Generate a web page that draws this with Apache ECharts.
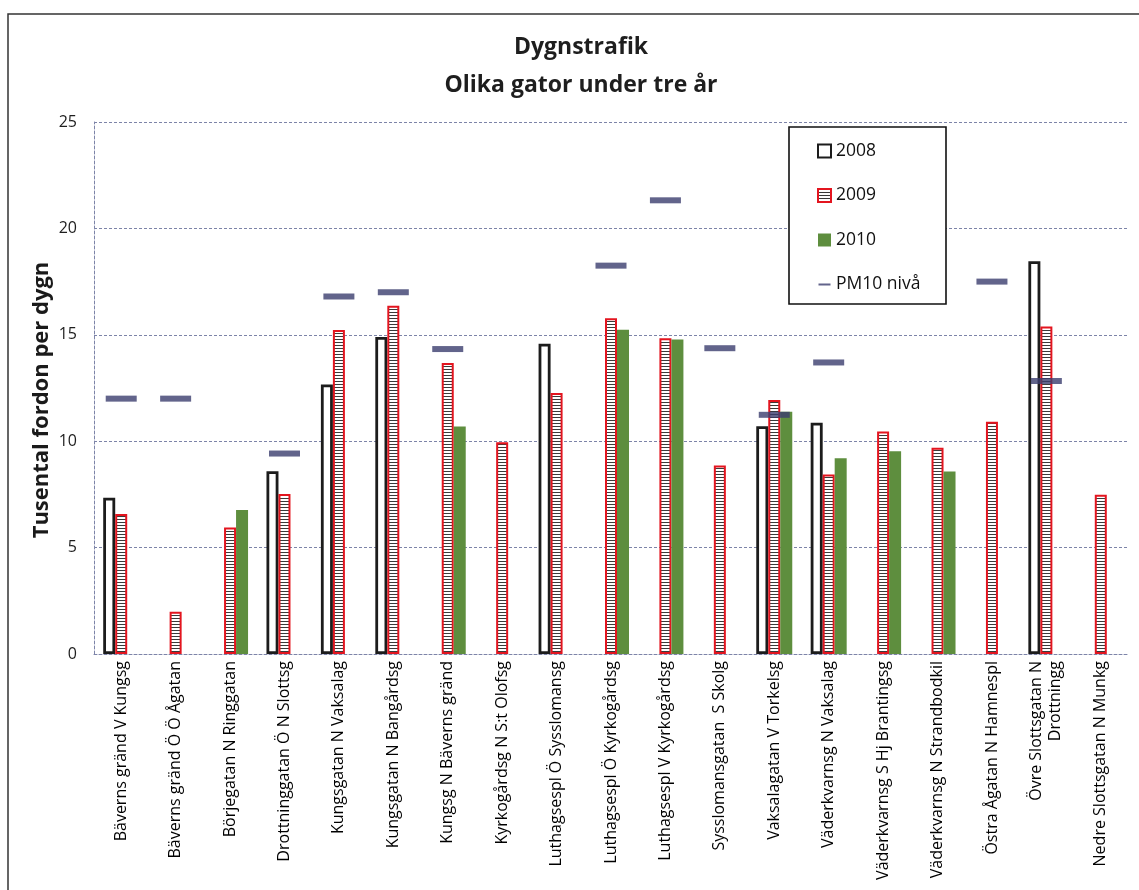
<!DOCTYPE html>
<html>
<head>
<meta charset="utf-8">
<title>Dygnstrafik</title>
<script src="https://cdn.jsdelivr.net/npm/echarts@6/dist/echarts.min.js"></script>
<style>
  html, body { margin: 0; padding: 0; background: #ffffff; }
  #chart { width: 1139px; height: 890px; }
</style>
</head>
<body>
<div id="chart"></div>
<script>
// Mätplatser (gator)
var categories = [
  'Bäverns gränd V Kungsg',
  'Bäverns gränd Ö Ö Ågatan',
  'Börjegatan N Ringgatan',
  'Drottninggatan Ö N Slottsg',
  'Kungsgatan N Vaksalag',
  'Kungsgatan N Bangårdsg',
  'Kungsg N Bäverns gränd',
  'Kyrkogårdsg N S:t Olofsg',
  'Luthagsespl Ö Sysslomansg',
  'Luthagsespl Ö Kyrkogårdsg',
  'Luthagsespl V Kyrkogårdsg',
  'Sysslomansgatan  S Skolg',
  'Vaksalagatan V Torkelsg',
  'Väderkvarnsg N Vaksalag',
  'Väderkvarnsg S Hj Brantingsg',
  'Väderkvarnsg N Strandbodkil',
  'Östra Ågatan N Hamnespl',
  'Övre Slottsgatan N\nDrottningg',
  'Nedre Slottsgatan N Munkg'
];

// Tusental fordon per dygn ('-' = ingen mätning)
var values2008 = [7.34, '-', '-', 8.59, 12.67, 14.9, '-', '-', 14.58, '-', '-', '-', 10.7, 10.87, '-', '-', '-', 18.46, '-'];
var values2009 = [6.58, 1.98, 5.94, 7.52, 15.22, 16.36, 13.67, 9.95, 12.27, 15.78, 14.84, 8.86, 11.94, 8.44, 10.45, 9.69, 10.91, 15.39, 7.48];
var values2010 = ['-', '-', 6.77, '-', '-', '-', 10.69, '-', '-', 15.24, 14.78, '-', 11.38, 9.2, 9.53, 8.58, '-', '-', '-'];
var valuesPM10 = [12.0, 12.0, '-', 9.42, 16.8, 17.0, 14.33, '-', '-', 18.25, 21.32, 14.37, 11.24, 13.7, '-', '-', 17.5, 12.83, '-'];

var yTicks = { min: 0, max: 25, interval: 5 };

// Randig fyllning för 2009-staplarna
function stripePattern() {
  var c = document.createElement('canvas');
  c.width = 4;
  c.height = 3;
  var ctx = c.getContext('2d');
  ctx.fillStyle = '#ffffff';
  ctx.fillRect(0, 0, 4, 3);
  ctx.fillStyle = '#3a3a3a';
  ctx.fillRect(0, 0, 4, 1);
  return c;
}

var chart = echarts.init(document.getElementById('chart'), null, { renderer: 'canvas' });

var gridColor = '#7d84a8';
var font = '"Open Sans", "DejaVu Sans", sans-serif';

var option = {
  backgroundColor: '#ffffff',
  animation: false,
  title: {
    text: 'Dygnstrafik\nOlika gator under tre år',
    left: 576,
    top: 23,
    textAlign: 'center',
    textStyle: {
      fontFamily: font,
      fontSize: 23,
      fontWeight: 'bold',
      color: '#1e1e1e',
      lineHeight: 38
    }
  },
  graphic: [
    {
      type: 'rect',
      z: 0,
      silent: true,
      shape: { x: 8, y: 14, width: 1300, height: 1100 },
      style: { fill: 'none', stroke: '#333333', lineWidth: 1.5 }
    },
    {
      type: 'rect',
      z: 10,
      silent: true,
      shape: { x: 789, y: 127, width: 157, height: 177 },
      style: { fill: '#ffffff', stroke: '#111111', lineWidth: 1.6 }
    },
    {
      // y-axelns rubrik
      type: 'text',
      x: 42,
      y: 400,
      rotation: Math.PI / 2,
      silent: true,
      style: {
        text: 'Tusental fordon per dygn',
        fontFamily: font,
        fontSize: 22,
        fontWeight: 'bold',
        fill: '#1a1a1a',
        align: 'center',
        verticalAlign: 'middle'
      }
    }
  ],
  legend: {
    orient: 'vertical',
    left: 817,
    top: 142,
    padding: 0,
    z: 20,
    itemWidth: 13,
    itemHeight: 13,
    itemGap: 26.5,
    textStyle: {
      fontFamily: font,
      fontSize: 17.5,
      color: '#111111',
      lineHeight: 17
    },
    data: [
      { name: '2008', icon: 'rect' },
      { name: '2009', icon: 'rect' },
      { name: '2010', icon: 'rect' },
      { name: 'PM10 nivå', icon: 'path://M0,0 L0.01,0 L0,0.01 Z M0,5.5 L12,5.5 L12,7.5 L0,7.5 Z M0,13 L0.01,13 L0,12.99 Z' }
    ]
  },
  grid: {
    left: 94,
    right: 11,
    top: 122,
    bottom: 236,
    containLabel: false
  },
  xAxis: {
    type: 'category',
    data: categories,
    axisLine: { show: true, lineStyle: { color: gridColor, width: 1, type: [3, 2] } },
    axisTick: { show: false },
    axisLabel: {
      interval: 0,
      rotate: 90,
      margin: 7,
      fontFamily: font,
      fontSize: 16,
      color: '#000000',
      lineHeight: 19
    }
  },
  yAxis: {
    type: 'value',
    min: yTicks.min,
    max: yTicks.max,
    interval: yTicks.interval,
    axisLine: { show: true, lineStyle: { color: gridColor, width: 1, type: [3, 2] } },
    axisTick: { show: false },
    axisLabel: {
      margin: 17,
      fontFamily: font,
      fontSize: 16,
      color: '#1e1e1e'
    },
    splitLine: { show: true, lineStyle: { color: gridColor, width: 1, type: [3, 2] } }
  },
  series: [
    {
      name: '2008',
      type: 'bar',
      data: values2008,
      barWidth: 12,
      barGap: '0%',
      itemStyle: { color: '#ffffff', borderColor: '#1c1c1c', borderWidth: 2.8 }
    },
    {
      name: '2009',
      type: 'bar',
      data: values2009,
      barWidth: 12,
      barGap: '0%',
      itemStyle: {
        color: { image: stripePattern(), repeat: 'repeat' },
        borderColor: '#e3151f',
        borderWidth: 2
      }
    },
    {
      name: '2010',
      type: 'bar',
      data: values2010,
      barWidth: 12,
      barGap: '0%',
      itemStyle: { color: '#5e8e3e' }
    },
    {
      name: 'PM10 nivå',
      type: 'scatter',
      data: valuesPM10,
      symbol: 'rect',
      symbolSize: [31, 6],
      z: 5,
      itemStyle: { color: '#3b3d6e' }
    }
  ]
};

chart.setOption(option);
</script>
</body>
</html>
